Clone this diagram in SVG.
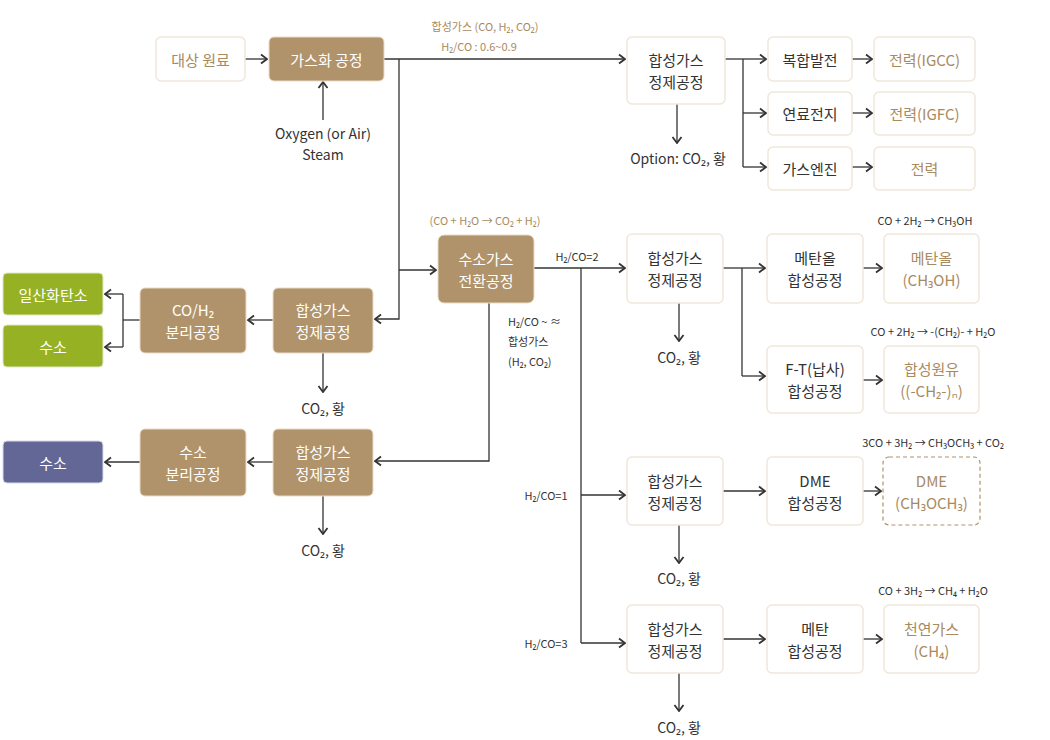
<svg xmlns="http://www.w3.org/2000/svg" width="1050" height="740" viewBox="0 0 1050 740">
<defs>
<style>
text{font-family:"Noto Sans CJK KR","Noto Sans",sans-serif;text-anchor:middle;dominant-baseline:central}
.wb{fill:#fff;stroke:#efe7dc;stroke-width:1.5}
.bb{fill:#b0936a;stroke:#e9dcc8;stroke-width:1}
.gb{fill:#97b125;stroke:#dfe8c4;stroke-width:1}
.pb{fill:#636795;stroke:#d9dae8;stroke-width:1}
.db{fill:#fff;stroke:#b0936a;stroke-width:1.2;stroke-dasharray:4 3}
.t{font-size:15px;fill:#333}
.tw{font-size:15px;fill:#fff}
.tb{font-size:15px;fill:#a88a60}
.s{font-size:11px;fill:#333}
.sb{font-size:11px;fill:#a88a60}
.m{font-size:14px;fill:#333}
.ln{fill:none;stroke:#333;stroke-width:1.3}
.ar{fill:none;stroke:#333;stroke-width:1.3;marker-end:url(#ah)}
</style>
<marker id="ah" viewBox="-8 -6 9 12" markerWidth="9" markerHeight="12" refX="0" refY="0" orient="auto" markerUnits="userSpaceOnUse">
<path d="M-6,-4.5 L0,0 L-6,4.5" fill="none" stroke="#333" stroke-width="1.8"/>
</marker>
</defs>

<g id="connectors">
<line class="ar" x1="245" y1="59" x2="267" y2="59"/>
<line class="ar" x1="323" y1="120" x2="323" y2="82"/>
<line class="ar" x1="384" y1="59" x2="625" y2="59"/>
<polyline class="ar" points="399,59 399,319 375,319"/>
<line class="ar" x1="399" y1="270" x2="436" y2="270"/>
<line class="ar" x1="677" y1="104" x2="677" y2="143"/>
<line class="ln" x1="725" y1="59" x2="743" y2="59"/>
<polyline class="ln" points="743,59 743,167"/>
<line class="ar" x1="743" y1="59" x2="766" y2="59"/>
<line class="ar" x1="743" y1="113" x2="766" y2="113"/>
<line class="ar" x1="743" y1="167" x2="766" y2="167"/>
<line class="ar" x1="852" y1="59" x2="872" y2="59"/>
<line class="ar" x1="852" y1="113" x2="872" y2="113"/>
<line class="ar" x1="852" y1="167" x2="872" y2="167"/>
<line class="ar" x1="534" y1="268" x2="625" y2="268"/>
<polyline class="ln" points="581,268 581,643"/>
<line class="ar" x1="581" y1="495" x2="625" y2="495"/>
<line class="ar" x1="581" y1="643" x2="625" y2="643"/>
<polyline class="ar" points="489,303 489,461 375,461"/>
<line class="ar" x1="679" y1="303" x2="679" y2="341"/>
<line class="ln" x1="723" y1="268" x2="742" y2="268"/>
<polyline class="ln" points="742,268 742,376"/>
<line class="ar" x1="742" y1="268" x2="765" y2="268"/>
<line class="ar" x1="742" y1="376" x2="765" y2="376"/>
<line class="ar" x1="863" y1="268" x2="882" y2="268"/>
<line class="ar" x1="863" y1="380" x2="882" y2="380"/>
<line class="ar" x1="723" y1="491" x2="765" y2="491"/>
<line class="ar" x1="863" y1="491" x2="881" y2="491"/>
<line class="ar" x1="679" y1="525" x2="679" y2="563"/>
<line class="ar" x1="723" y1="639" x2="765" y2="639"/>
<line class="ar" x1="863" y1="639" x2="882" y2="639"/>
<line class="ar" x1="679" y1="673" x2="679" y2="711"/>
<line class="ar" x1="273" y1="320" x2="248" y2="320"/>
<line class="ln" x1="140" y1="320" x2="123" y2="320"/>
<polyline class="ln" points="123,294 123,347"/>
<line class="ar" x1="123" y1="294" x2="105" y2="294"/>
<line class="ar" x1="123" y1="347" x2="105" y2="347"/>
<line class="ar" x1="323" y1="353" x2="323" y2="392"/>
<line class="ar" x1="273" y1="462" x2="248" y2="462"/>
<line class="ar" x1="140" y1="462" x2="105" y2="462"/>
<line class="ar" x1="323" y1="496" x2="323" y2="534"/>
</g>

<g id="labels">
<text class="sb" x="485" y="26">합성가스 (CO, H₂, CO₂)</text>
<text class="sb" x="479" y="46">H₂/CO : 0.6~0.9</text>
<text class="m" x="323" y="133">Oxygen (or Air)</text>
<text class="m" x="323" y="154">Steam</text>
<text class="m" x="678" y="158">Option: CO₂, 황</text>
<text class="sb" x="485" y="220">(CO + H₂O → CO₂ + H₂)</text>
<text class="s" x="577" y="256">H₂/CO=2</text>
<text class="s" x="508" y="321" style="text-anchor:start">H₂/CO ~ ≈</text>
<text class="s" x="508" y="341" style="text-anchor:start">합성가스</text>
<text class="s" x="508" y="361" style="text-anchor:start">(H₂, CO₂)</text>
<text class="s" x="546" y="495">H₂/CO=1</text>
<text class="s" x="546" y="643">H₂/CO=3</text>
<text class="m" x="679" y="357">CO₂, 황</text>
<text class="m" x="679" y="578">CO₂, 황</text>
<text class="m" x="679" y="727">CO₂, 황</text>
<text class="m" x="323" y="408">CO₂, 황</text>
<text class="m" x="323" y="550">CO₂, 황</text>
<text class="s" x="925" y="220">CO + 2H₂ → CH₃OH</text>
<text class="s" x="933" y="331">CO + 2H₂ → -(CH₂)- + H₂O</text>
<text class="s" x="933" y="442">3CO + 3H₂ → CH₃OCH₃ + CO₂</text>
<text class="s" x="933" y="590">CO + 3H₂ → CH₄ + H₂O</text>
</g>

<g id="n-raw"><rect class="wb" x="156" y="37" width="89" height="44" rx="5"/><text class="tb" x="200.5" y="59">대상 원료</text></g>
<g id="n-gasify"><rect class="bb" x="269" y="37" width="115" height="44" rx="5"/><text class="tw" x="326.5" y="59">가스화 공정</text></g>

<g id="n-clean1"><rect class="wb" x="627" y="37" width="98" height="67" rx="5"/><text class="t" x="676" y="59">합성가스</text><text class="t" x="676" y="81">정제공정</text></g>
<g id="n-igcc"><rect class="wb" x="768" y="37" width="84" height="44" rx="5"/><text class="t" x="810" y="59">복합발전</text></g>
<g id="n-fc"><rect class="wb" x="768" y="92" width="84" height="43" rx="5"/><text class="t" x="810" y="113">연료전지</text></g>
<g id="n-engine"><rect class="wb" x="768" y="147" width="84" height="43" rx="5"/><text class="t" x="810" y="168">가스엔진</text></g>
<g id="n-p1"><rect class="wb" x="874" y="37" width="101" height="44" rx="5"/><text class="tb" x="924.5" y="59">전력(IGCC)</text></g>
<g id="n-p2"><rect class="wb" x="874" y="92" width="101" height="43" rx="5"/><text class="tb" x="924.5" y="113">전력(IGFC)</text></g>
<g id="n-p3"><rect class="wb" x="874" y="147" width="101" height="43" rx="5"/><text class="tb" x="924.5" y="168">전력</text></g>

<g id="n-shift"><rect class="bb" x="438" y="235" width="96" height="68" rx="6"/><text class="tw" x="486" y="258">수소가스</text><text class="tw" x="486" y="280">전환공정</text></g>

<g id="n-clean2"><rect class="wb" x="627" y="234" width="96" height="69" rx="5"/><text class="t" x="675" y="257">합성가스</text><text class="t" x="675" y="279">정제공정</text></g>
<g id="n-meoh"><rect class="wb" x="767" y="234" width="96" height="69" rx="5"/><text class="t" x="815" y="257">메탄올</text><text class="t" x="815" y="279">합성공정</text></g>
<g id="n-ft"><rect class="wb" x="767" y="346" width="96" height="67" rx="5"/><text class="t" x="815" y="368">F-T(납사)</text><text class="t" x="815" y="390">합성공정</text></g>
<g id="n-meoh-p"><rect class="wb" x="884" y="234" width="95" height="69" rx="5"/><text class="tb" x="931.5" y="257">메탄올</text><text class="tb" x="931.5" y="279">(CH₃OH)</text></g>
<g id="n-crude"><rect class="wb" x="884" y="346" width="95" height="67" rx="5"/><text class="tb" x="931.5" y="368">합성원유</text><text class="tb" x="931.5" y="390">((-CH₂-)ₙ)</text></g>

<g id="n-clean3"><rect class="wb" x="627" y="457" width="96" height="68" rx="5"/><text class="t" x="675" y="480">합성가스</text><text class="t" x="675" y="502">정제공정</text></g>
<g id="n-dme"><rect class="wb" x="767" y="457" width="96" height="68" rx="5"/><text class="t" x="815" y="480">DME</text><text class="t" x="815" y="502">합성공정</text></g>
<g id="n-dme-p"><rect class="db" x="883" y="457" width="97" height="68" rx="6"/><text class="tb" x="931.5" y="480">DME</text><text class="tb" x="931.5" y="502">(CH₃OCH₃)</text></g>

<g id="n-clean4"><rect class="wb" x="627" y="605" width="96" height="68" rx="5"/><text class="t" x="675" y="628">합성가스</text><text class="t" x="675" y="650">정제공정</text></g>
<g id="n-methane"><rect class="wb" x="767" y="605" width="96" height="68" rx="5"/><text class="t" x="815" y="628">메탄</text><text class="t" x="815" y="650">합성공정</text></g>
<g id="n-ng"><rect class="wb" x="884" y="605" width="95" height="68" rx="5"/><text class="tb" x="931.5" y="628">천연가스</text><text class="tb" x="931.5" y="650">(CH₄)</text></g>

<g id="n-clean5"><rect class="bb" x="273" y="288" width="100" height="65" rx="5"/><text class="tw" x="323" y="309">합성가스</text><text class="tw" x="323" y="331">정제공정</text></g>
<g id="n-sep1"><rect class="bb" x="140" y="288" width="106" height="65" rx="5"/><text class="tw" x="193" y="309">CO/H₂</text><text class="tw" x="193" y="331">분리공정</text></g>
<g id="n-co"><rect class="gb" x="3" y="273" width="100" height="42" rx="4"/><text class="tw" x="53" y="294">일산화탄소</text></g>
<g id="n-h2a"><rect class="gb" x="3" y="325" width="100" height="42" rx="4"/><text class="tw" x="53" y="346">수소</text></g>

<g id="n-clean6"><rect class="bb" x="273" y="429" width="100" height="67" rx="5"/><text class="tw" x="323" y="451">합성가스</text><text class="tw" x="323" y="473">정제공정</text></g>
<g id="n-sep2"><rect class="bb" x="140" y="429" width="106" height="67" rx="5"/><text class="tw" x="193" y="451">수소</text><text class="tw" x="193" y="473">분리공정</text></g>
<g id="n-h2b"><rect class="pb" x="3" y="441" width="100" height="42" rx="4"/><text class="tw" x="53" y="462">수소</text></g>
</svg>
